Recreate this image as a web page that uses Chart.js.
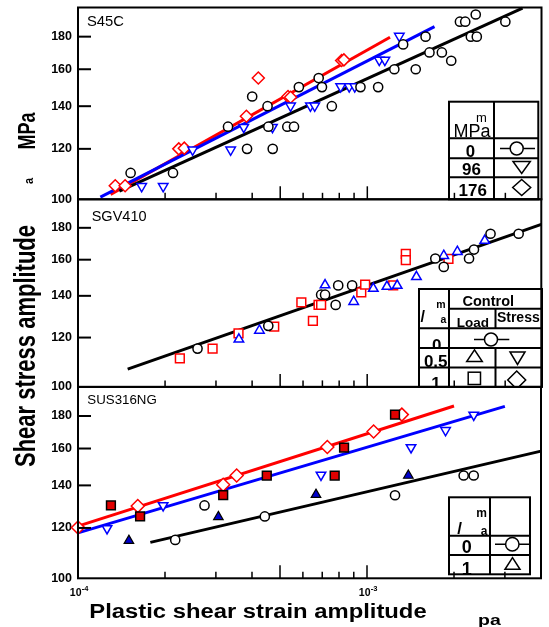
<!DOCTYPE html>
<html><head><meta charset="utf-8">
<script src="https://cdn.jsdelivr.net/npm/chart.js@4.4.0/dist/chart.umd.min.js"></script>
<style>
html,body{margin:0;padding:0;background:#fff;}
#wrap{position:relative;width:549px;height:627px;overflow:hidden;}
canvas{position:absolute;left:0;top:0;}
</style></head><body>
<div id="wrap">
<canvas id="c1" width="549" height="627"></canvas>
<canvas id="c2" width="549" height="627"></canvas>
<canvas id="c3" width="549" height="627"></canvas>
</div>
<script>
// ---------- axis definitions ----------
const X_MIN = 1e-4, X_MAX = 4e-3;
const Y_MIN = 100, Y_MAX = 200;
const Y_TICKS = [100, 120, 140, 160, 180];
const X_LABEL_VALUES = [1e-4, 1e-3];
const X_LABEL_EXPONENTS = ['-4', '-3'];
const X_MINOR_TICKS = [2e-4, 3e-4, 4e-4, 6e-4, 7e-4, 8e-4, 9e-4, 2e-3, 3e-3];
const X_LONG_TICKS = [5e-4, 1e-3];
const PANEL_NAMES = ['S45C', 'SGV410', 'SUS316NG'];

// ---------- Panel 1: S45C ----------
const S45C_M0_X = [1.52e-4, 2.13e-4, 3.30e-4, 4.00e-4, 3.84e-4, 4.52e-4, 4.55e-4, 4.71e-4, 2.09e-3, 2.18e-3, 2.37e-3, 3.00e-3, 2.28e-3, 2.39e-3, 1.59e-3, 1.33e-3, 1.64e-3, 1.81e-3, 1.95e-3, 1.24e-3, 1.47e-3, 6.79e-4, 5.80e-4, 6.97e-4, 9.47e-4, 1.09e-3, 7.54e-4, 5.29e-4, 5.58e-4];
const S45C_M0_Y = [110, 110, 130, 145, 120, 140, 130, 120, 190, 190, 195, 190, 180, 180, 180, 175, 170, 170, 165, 160, 160, 155, 150, 150, 150, 150, 140, 130, 130];
const S45C_M96_X = [1.66e-4, 1.97e-4, 2.49e-4, 3.37e-4, 3.74e-4, 4.70e-4, 5.43e-4, 6.36e-4, 6.58e-4, 8.09e-4, 8.66e-4, 9.05e-4, 1.10e-3, 1.15e-3, 1.29e-3];
const S45C_M96_Y = [104.8, 104.8, 119.6, 119.6, 129.8, 129.8, 140.2, 140.2, 140.2, 150.3, 150.3, 150.3, 165.4, 165.4, 180.4];
const S45C_M176_X = [1.345e-4, 1.455e-4, 2.23e-4, 2.33e-4, 3.82e-4, 4.20e-4, 5.32e-4, 5.43e-4, 8.15e-4, 8.30e-4];
const S45C_M176_Y = [105, 105, 120, 120.3, 135, 155, 145, 144.6, 165.1, 165.5];
const S45C_FIT0_X = [1.39e-4, 3.44e-3];
const S45C_FIT0_Y = [103.0, 199.6];
const S45C_FIT96_X = [1.195e-4, 1.707e-3];
const S45C_FIT96_Y = [100.8, 186.6];
const S45C_FIT176_X = [1.296e-4, 1.198e-3];
const S45C_FIT176_Y = [101.8, 179.6];

// ---------- Panel 2: SGV410 ----------
const SGV_R0_X = [2.59e-4, 4.55e-4, 6.93e-4, 7.15e-4, 7.94e-4, 8.87e-4, 7.78e-4, 1.72e-3, 1.84e-3, 2.25e-3, 2.34e-3, 2.67e-3, 3.34e-3];
const SGV_R0_Y = [115.2, 125.3, 140.6, 140.6, 145.5, 145.5, 135.4, 160.7, 155.8, 160.7, 166.1, 176.1, 176.1];
const SGV_R05_LOAD_X = [3.60e-4, 4.24e-4, 7.15e-4, 8.98e-4, 1.05e-3, 1.17e-3, 1.27e-3, 1.48e-3, 1.84e-3, 2.05e-3, 2.55e-3];
const SGV_R05_LOAD_Y = [119.2, 123.2, 145.7, 137.0, 143.8, 144.9, 145.4, 150.2, 162.4, 164.8, 171.7];
const SGV_R1_LOAD_X = [2.25e-4, 2.92e-4, 3.59e-4, 4.77e-4, 5.92e-4, 6.49e-4, 6.79e-4, 6.93e-4, 9.54e-4, 9.84e-4, 1.23e-3, 1.36e-3, 1.36e-3, 1.91e-3];
const SGV_R1_LOAD_Y = [111.1, 115.2, 121.9, 124.9, 136.6, 127.6, 135.4, 135.4, 141.8, 145.9, 145.5, 163.5, 159.7, 160.5];
const SGV_FIT_X = [1.485e-4, 4.0e-3];
const SGV_FIT_Y = [106.8, 182.3];

// ---------- Panel 3: SUS316NG ----------
const SUS_R0_X = [2.17e-4, 2.74e-4, 4.43e-4, 1.25e-3, 2.16e-3, 2.34e-3];
const SUS_R0_Y = [114.9, 130.2, 125.1, 135.1, 145.1, 145.1];
const SUS_R1_X = [1.50e-4, 3.06e-4, 6.66e-4, 1.39e-3];
const SUS_R1_Y = [114.6, 124.9, 135.4, 145.1];
const SUS_STRESS05_X = [1.26e-4, 1.97e-4, 6.93e-4, 1.42e-3, 1.87e-3, 2.34e-3];
const SUS_STRESS05_Y = [119.8, 130.2, 145.4, 160.6, 170.9, 180.7];
const SUS_LOAD1_X = [1.30e-4, 1.64e-4, 3.18e-4, 4.50e-4, 7.73e-4, 8.33e-4, 1.25e-3];
const SUS_LOAD1_Y = [130.2, 125.1, 135.1, 145.1, 145.1, 160.5, 180.9];
const SUS_STRESS1_X = [1.0e-4, 1.61e-4, 3.18e-4, 3.54e-4, 7.29e-4, 1.054e-3, 1.32e-3];
const SUS_STRESS1_Y = [120.2, 129.9, 140.3, 145.1, 160.9, 170.2, 180.9];
const SUS_FIT_RED_X = [1.0e-4, 2.0e-3];
const SUS_FIT_RED_Y = [120.8, 186.6];
const SUS_FIT_BLUE_X = [1.0e-4, 3.0e-3];
const SUS_FIT_BLUE_Y = [117.9, 186.4];
const SUS_FIT_BLACK_X = [1.78e-4, 4.0e-3];
const SUS_FIT_BLACK_Y = [113.9, 158.5];

// ---------- helpers ----------
const FAM = '"Liberation Sans", Arial, Helvetica, sans-serif';
const RED = '#ff0000', BLUE = '#0000ff', BLACK = '#000000';
const pts = (xs, ys) => xs.map((x, i) => ({x: x, y: ys[i]}));

function markerDS(xs, ys, style, color, opts) {
  return Object.assign({
    data: pts(xs, ys), showLine: false, order: 1, clip: false,
    pointStyle: style, pointRadius: 4.6, pointBorderWidth: 1.5,
    pointBorderColor: color, pointBackgroundColor: '#ffffff',
    borderColor: color, backgroundColor: '#ffffff'
  }, opts || {});
}
function lineDS(xs, ys, color) {
  return {data: pts(xs, ys), showLine: true, order: 2, clip: false, pointRadius: 0,
    borderColor: color, borderWidth: 3, backgroundColor: color, fill: false};
}

function txt(ctx, s, x, y, o) {
  o = o || {};
  ctx.save();
  ctx.translate(x, y);
  if (o.rot) ctx.rotate(o.rot);
  ctx.scale(o.sx || 1, o.sy || 1);
  ctx.font = (o.weight || 'normal') + ' ' + (o.size || 12) + 'px ' + FAM;
  ctx.fillStyle = '#000';
  ctx.textAlign = o.align || 'left';
  ctx.textBaseline = 'alphabetic';
  ctx.fillText(s, 0, 0);
  ctx.restore();
}
function clipTxt(ctx, s, x, y, o, cell) {
  ctx.save();
  ctx.beginPath();
  ctx.rect(cell[0], cell[1], cell[2] - cell[0], cell[3] - cell[1]);
  ctx.clip();
  txt(ctx, s, x, y, o);
  ctx.restore();
}
function seg(ctx, x1, y1, x2, y2, w) {
  ctx.beginPath(); ctx.lineWidth = w || 2; ctx.strokeStyle = '#000';
  ctx.moveTo(x1, y1); ctx.lineTo(x2, y2); ctx.stroke();
}
function poly(ctx, p, w) {
  ctx.beginPath(); ctx.moveTo(p[0][0], p[0][1]);
  for (let i = 1; i < p.length; i++) ctx.lineTo(p[i][0], p[i][1]);
  ctx.closePath(); ctx.fillStyle = '#fff'; ctx.fill();
  ctx.lineWidth = w || 1.5; ctx.strokeStyle = '#000'; ctx.stroke();
}
function circleLine(ctx, x1, x2, cx, cy, r) {
  seg(ctx, x1, cy, x2, cy, 1.5);
  ctx.beginPath(); ctx.arc(cx, cy, r, 0, Math.PI * 2);
  ctx.fillStyle = '#fff'; ctx.fill(); ctx.lineWidth = 1.5; ctx.strokeStyle = '#000'; ctx.stroke();
}
function box(ctx, x1, y1, x2, y2) {
  ctx.fillStyle = '#fff'; ctx.fillRect(x1, y1, x2 - x1, y2 - y1);
  ctx.lineWidth = 2; ctx.strokeStyle = '#000'; ctx.strokeRect(x1, y1, x2 - x1, y2 - y1);
}

function frameAndTicks(chart) {
  const ctx = chart.ctx, a = chart.chartArea;
  const xs = chart.scales.x, ys = chart.scales.y;
  ctx.save();
  ctx.lineWidth = 2; ctx.strokeStyle = '#000';
  ctx.strokeRect(a.left, a.top, a.right - a.left, a.bottom - a.top);
  Y_TICKS.slice(1).forEach(v => {
    const py = ys.getPixelForValue(v);
    seg(ctx, a.left, py, a.left + 13, py, 2);
  });
  X_MINOR_TICKS.forEach(v => {
    const px = xs.getPixelForValue(v);
    seg(ctx, px, a.bottom, px, a.bottom - 6.5, 1.5);
  });
  X_LONG_TICKS.forEach(v => {
    const px = xs.getPixelForValue(v);
    seg(ctx, px, a.bottom, px, a.bottom - 13, 1.5);
  });
  ctx.restore();
}

// legends (drawn before ticks)
function legend1(ctx) {
  const L = 449, R = 538.3, T = 101.7, B = 199.3, C = 494;
  box(ctx, L, T, R, B);
  seg(ctx, C, T, C, B, 2);
  [138.3, 158.3, 177.3].forEach(y => seg(ctx, L, y, R, y, 2));
  txt(ctx, 'm', 481.3, 121.7, {size: 13, align: 'center'});
  txt(ctx, 'MPa', 472, 136.7, {size: 18, align: 'center'});
  txt(ctx, '0', 470.5, 156.5, {size: 16, weight: 'bold', align: 'center', sx: 1.05});
  txt(ctx, '96', 471.5, 174.5, {size: 17, weight: 'bold', align: 'center'});
  txt(ctx, '176', 472.8, 196.2, {size: 17, weight: 'bold', align: 'center'});
  circleLine(ctx, 500, 535, 516.7, 148.5, 6.5);
  poly(ctx, [[513, 161.5], [530.3, 161.5], [521.7, 173.5]]);
  poly(ctx, [[521.7, 179.5], [530.7, 187.5], [521.7, 195.5], [512.7, 187.5]]);
}
function legend2(ctx) {
  const L = 419, R = 542, T = 289, B = 386.9, C1 = 449, C2 = 495.5;
  box(ctx, L, T, R, B);
  txt(ctx, 'Control', 488.3, 306, {size: 14.5, weight: 'bold', align: 'center'});
  txt(ctx, 'Load', 472.8, 326.8, {size: 13.5, weight: 'bold', align: 'center'});
  txt(ctx, 'Stress', 518.3, 321.7, {size: 14, weight: 'bold', align: 'center'});
  txt(ctx, '/', 422.7, 322, {size: 16, weight: 'bold', align: 'center'});
  txt(ctx, 'm', 441, 308, {size: 10.5, weight: 'bold', align: 'center'});
  txt(ctx, 'a', 443.3, 323.3, {size: 10.5, weight: 'bold', align: 'center'});
  clipTxt(ctx, '0', 436.7, 350.5, {size: 17, weight: 'bold', align: 'center'}, [L, 328.3, C1, 348]);
  txt(ctx, '0.5', 435.7, 366.5, {size: 17, weight: 'bold', align: 'center'});
  clipTxt(ctx, '1', 436, 389, {size: 17, weight: 'bold', align: 'center'}, [L, 367.5, C1, B]);
  seg(ctx, C1, T, C1, B, 2);
  seg(ctx, C1, 308.8, R, 308.8, 2);
  [328.3, 348, 367.5].forEach(y => seg(ctx, L, y, R, y, 2));
  seg(ctx, C2, 308.8, C2, 328.3, 2);
  seg(ctx, C2, 348, C2, B, 2);
  circleLine(ctx, 474, 509.3, 491, 339.5, 6.5);
  poly(ctx, [[466.7, 361.5], [482.3, 361.5], [474.5, 349.8]]);
  poly(ctx, [[510, 352], [525, 352], [517.5, 364.5]]);
  ctx.save(); ctx.beginPath(); ctx.rect(C2, 367.5, R - C2, B - 367.5); ctx.clip();
  poly(ctx, [[516.7, 371], [525.7, 380], [516.7, 389], [507.7, 380]]);
  ctx.restore();
  ctx.save(); ctx.lineWidth = 1.5; ctx.strokeStyle = '#000'; ctx.strokeRect(468.2, 372.2, 12.3, 12.3); ctx.restore();
}
function legend3(ctx) {
  const L = 449, R = 530, T = 497.3, B = 574.3, C = 490;
  box(ctx, L, T, R, B);
  txt(ctx, '/', 459.7, 534, {size: 17, weight: 'bold', align: 'center'});
  txt(ctx, 'm', 481.7, 517.3, {size: 12, weight: 'bold', align: 'center'});
  txt(ctx, 'a', 484, 535, {size: 12, weight: 'bold', align: 'center'});
  txt(ctx, '0', 466.7, 553.3, {size: 18, weight: 'bold', align: 'center'});
  clipTxt(ctx, '1', 466.7, 575, {size: 18, weight: 'bold', align: 'center'}, [L, 555, C, B]);
  seg(ctx, C, T, C, B, 2);
  [535.7, 555].forEach(y => seg(ctx, L, y, R, y, 2));
  circleLine(ctx, 495, 529.3, 512.3, 544.3, 6.7);
  poly(ctx, [[505, 569.3], [520, 569.3], [512.5, 557.7]]);
}

function globalText(chart) {
  const ctx = chart.ctx, xs = chart.scales.x;
  // x tick labels
  X_LABEL_VALUES.forEach((v, i) => {
    const px = xs.getPixelForValue(v);
    txt(ctx, '10', px + 3.5, 596, {size: 10.5, weight: 'bold', align: 'right'});
    txt(ctx, X_LABEL_EXPONENTS[i], px + 3.8, 590.5, {size: 7.5, weight: 'bold', align: 'left'});
  });
  txt(ctx, 'Plastic shear strain amplitude', 258, 618, {size: 20, weight: 'bold', align: 'center', sx: 1.19});
  txt(ctx, 'pa', 478, 625, {size: 15, weight: 'bold', align: 'left', sx: 1.3});
  const R = -Math.PI / 2;
  txt(ctx, 'Shear stress amplitude', 35, 346, {size: 22, weight: 'bold', align: 'center', rot: R, sy: 1.3});
  txt(ctx, 'MPa', 35, 131, {size: 18, weight: 'bold', align: 'center', rot: R, sy: 1.3});
  txt(ctx, 'a', 33, 181, {size: 11, weight: 'bold', align: 'center', rot: R, sy: 1.1});
}

function makePanel(id, padTop, padBottom, datasets, idx, legendFn, isLast) {
  const labelPos = [[87, 26], [91.7, 221], [87.3, 404]][idx];
  const labelSize = [14.8, 14.5, 13.3][idx];
  return new Chart(document.getElementById(id), {
    type: 'scatter',
    data: {datasets: datasets},
    options: {
      responsive: false, animation: false, devicePixelRatio: 1, events: [],
      layout: {padding: {top: padTop, bottom: padBottom, left: 0, right: 1.5}},
      plugins: {legend: {display: false}, tooltip: {enabled: false}, title: {display: false}},
      scales: {
        x: {type: 'logarithmic', min: X_MIN, max: X_MAX, display: false},
        y: {
          type: 'logarithmic', min: Y_MIN, max: Y_MAX,
          afterBuildTicks: s => { s.ticks = Y_TICKS.map(v => ({value: v})); },
          afterFit: s => { s.width = 78; s.paddingTop = 0; s.paddingBottom = 0; },
          grid: {display: false, drawTicks: false}, border: {display: false},
          ticks: {color: '#000', padding: 6, autoSkip: false,
            font: {family: FAM, size: 12.5, weight: 'bold'}, callback: v => String(v)}
        }
      }
    },
    plugins: [{
      id: 'deco' + idx,
      afterDatasetsDraw(chart) {
        const ctx = chart.ctx;
        ctx.save();
        txt(ctx, PANEL_NAMES[idx], labelPos[0], labelPos[1], {size: labelSize});
        legendFn(ctx);
        frameAndTicks(chart);
        if (isLast) globalText(chart);
        ctx.restore();
      }
    }]
  });
}

// Panel 1
makePanel('c1', 7.3, 627 - 199.3, [
  markerDS(S45C_M0_X, S45C_M0_Y, 'circle', BLACK),
  markerDS(S45C_M96_X, S45C_M96_Y, 'triangle', BLUE, {pointRadius: 5.5, pointRotation: 180}),
  markerDS(S45C_M176_X, S45C_M176_Y, 'rectRot', RED, {pointRadius: 6}),
  lineDS(S45C_FIT0_X, S45C_FIT0_Y, BLACK),
  lineDS(S45C_FIT96_X, S45C_FIT96_Y, BLUE),
  lineDS(S45C_FIT176_X, S45C_FIT176_Y, RED)
], 0, legend1, false);

// Panel 2
makePanel('c2', 199.3, 627 - 386.9, [
  markerDS(SGV_R0_X, SGV_R0_Y, 'circle', BLACK),
  markerDS(SGV_R05_LOAD_X, SGV_R05_LOAD_Y, 'triangle', BLUE, {pointRadius: 5.5}),
  markerDS(SGV_R1_LOAD_X, SGV_R1_LOAD_Y, 'rect', RED, {pointRadius: 6.2}),
  lineDS(SGV_FIT_X, SGV_FIT_Y, BLACK)
], 1, legend2, false);

// Panel 3
makePanel('c3', 386.9, 627 - 578.3, [
  markerDS(SUS_R0_X, SUS_R0_Y, 'circle', BLACK),
  markerDS(SUS_R1_X, SUS_R1_Y, 'triangle', '#000000', {pointRadius: 5.5, pointBackgroundColor: '#0000cc', pointBorderWidth: 1.2}),
  markerDS(SUS_STRESS05_X, SUS_STRESS05_Y, 'triangle', BLUE, {pointRadius: 5.5, pointRotation: 180}),
  markerDS(SUS_LOAD1_X, SUS_LOAD1_Y, 'rect', '#000000', {pointRadius: 6.2, pointBackgroundColor: '#e00000', pointBorderWidth: 1.5}),
  markerDS(SUS_STRESS1_X, SUS_STRESS1_Y, 'rectRot', RED, {pointRadius: 6.5}),
  lineDS(SUS_FIT_BLACK_X, SUS_FIT_BLACK_Y, BLACK),
  lineDS(SUS_FIT_BLUE_X, SUS_FIT_BLUE_Y, BLUE),
  lineDS(SUS_FIT_RED_X, SUS_FIT_RED_Y, RED)
], 2, legend3, true);
</script>
</body></html>
